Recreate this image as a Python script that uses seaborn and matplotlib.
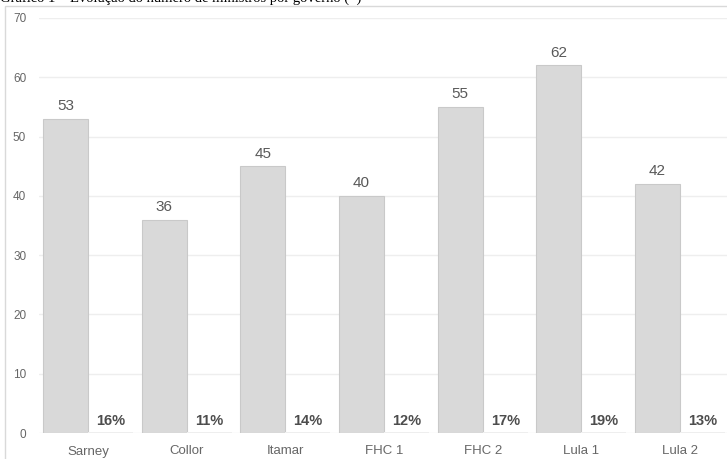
import matplotlib
matplotlib.use("Agg")
import matplotlib.pyplot as plt
from matplotlib.patches import Rectangle
import seaborn as sns
import pandas as pd

# Número de ministros por governo e participação percentual
governos = ["Sarney", "Collor", "Itamar", "FHC 1", "FHC 2", "Lula 1", "Lula 2"]
ministros = [53, 36, 45, 40, 55, 62, 42]
percentuais = [16, 11, 14, 12, 17, 19, 13]
yticks = [0, 10, 20, 30, 40, 50, 60, 70]

sns.set_theme(style="white")
plt.rcParams["font.family"] = ["Liberation Sans", "DejaVu Sans"]

df = pd.DataFrame({
    "governo": governos * 2,
    "serie": ["Ministros"] * len(governos) + ["%"] * len(governos),
    "valor": ministros + [p / 100 for p in percentuais],
})

fig = plt.figure(figsize=(7.27, 4.59), dpi=100)
ax = fig.add_axes([38.7 / 727, 26 / 459, 690.7 / 727, 415 / 459])

sns.barplot(
    data=df, x="governo", y="valor", hue="serie", order=governos,
    hue_order=["Ministros", "%"], palette=["#d9d9d9", "#d9d9d9"],
    width=0.912, gap=0, edgecolor="#c9c9c9", linewidth=0.8,
    legend=False, ax=ax, errorbar=None,
)
# a série percentual só carrega os rótulos
for bar in ax.containers[1]:
    bar.set_edgecolor("none")
    bar.set_facecolor("#eeeeee")

ax.set_ylim(0, 70)
ax.set_xlim(-0.5, len(governos) - 0.5)
ax.set_yticks(yticks)
ax.set_xlabel("")
ax.set_ylabel("")
ax.yaxis.grid(True, color="#eeeeee", linewidth=1)
ax.set_axisbelow(True)
for s in ax.spines.values():
    s.set_visible(False)
ax.tick_params(axis="y", length=0, pad=9, labelsize=8.5, labelcolor="#666666")
ax.tick_params(axis="x", length=0, pad=9, labelsize=9.5, labelcolor="#666666")

ax.bar_label(ax.containers[0], labels=[str(v) for v in ministros],
             padding=4, fontsize=11, color="#595959")
ax.bar_label(ax.containers[1], labels=[f"{p}%" for p in percentuais],
             padding=3, fontsize=10.5, fontweight="bold", color="#4d4d4d")

# moldura do gráfico
fig.patches.append(Rectangle((5 / 727, -0.1), 1.1, (459 - 6) / 459 + 0.1,
                             transform=fig.transFigure, fill=False,
                             edgecolor="#d9d9d9", linewidth=1))

fig.text(0.0, 0.996, "Gráfico 1 – Evolução do número de ministros por governo (*)",
         family=["Liberation Serif", "DejaVu Serif"], fontsize=10.5,
         ha="left", va="baseline", color="#000000")

fig.savefig("out.png", dpi=100)
